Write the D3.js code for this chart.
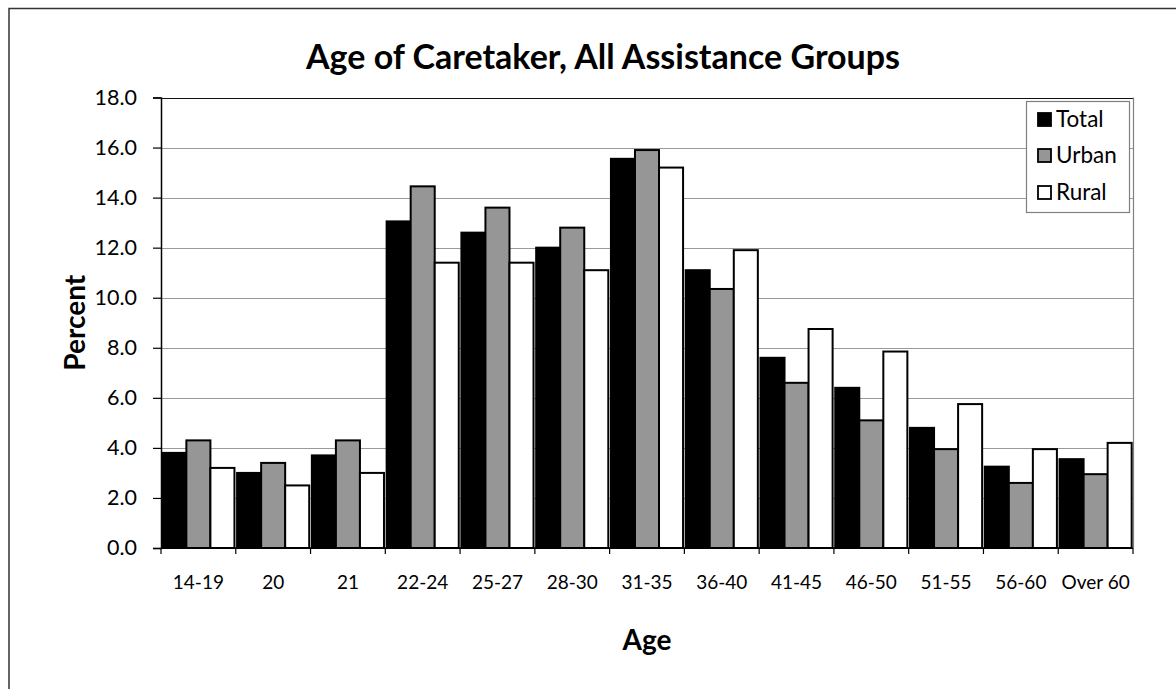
<!DOCTYPE html>
<html>
<head>
<meta charset="utf-8">
<script src="https://cdn.jsdelivr.net/npm/d3@7"></script>
<style>
  html, body { margin: 0; padding: 0; background: #fff; }
  svg { display: block; }
  text { font-family: Lato, "Open Sans", sans-serif; fill: #000; }
</style>
</head>
<body>
<svg id="chart" width="1176" height="689"></svg>
<script>
// ---- Data ----
const categories = ["14-19","20","21","22-24","25-27","28-30","31-35","36-40","41-45","46-50","51-55","56-60","Over 60"];
const seriesNames = ["Total","Urban","Rural"];
const total = [3.8, 3.0, 3.7, 13.05, 12.6, 12.0, 15.55, 11.1, 7.6, 6.4, 4.8, 3.25, 3.55];
const urban = [4.3, 3.4, 4.3, 14.45, 13.6, 12.8, 15.9, 10.35, 6.6, 5.1, 3.95, 2.6, 2.95];
const rural = [3.2, 2.5, 3.0, 11.4, 11.4, 11.1, 15.2, 11.9, 8.75, 7.85, 5.75, 3.95, 4.2];
const yTicks = [0, 2, 4, 6, 8, 10, 12, 14, 16, 18];
const titleText = "Age of Caretaker, All Assistance Groups";
const xTitle = "Age";
const yTitle = "Percent";

const seriesValues = { Total: total, Urban: urban, Rural: rural };
const colors = { Total: "#000000", Urban: "#969696", Rural: "#ffffff" };

const svg = d3.select("#chart");

// outer chart border
svg.append("rect")
  .attr("x", 9).attr("y", 8.5).attr("width", 1300).attr("height", 800)
  .attr("fill", "none").attr("stroke", "#333").attr("stroke-width", 1.5);

const plot = { left: 161, right: 1133, top: 97.5, bottom: 548 };

const x = d3.scaleBand().domain(categories).range([plot.left, plot.right]).padding(0);
const xInner = d3.scaleBand().domain(seriesNames).range([0, x.bandwidth()])
  .paddingInner(0).paddingOuter(0.055);
const y = d3.scaleLinear().domain([0, 18]).range([plot.bottom, plot.top]);

// gridlines
svg.append("g").selectAll("line").data(yTicks.filter(d => d > 0)).join("line")
  .attr("x1", plot.left).attr("x2", plot.right)
  .attr("y1", d => Math.round(y(d)) + 0.5).attr("y2", d => Math.round(y(d)) + 0.5)
  .attr("stroke", d => d === 18 ? "#111" : "#9a9a9a").attr("stroke-width", 1.2);

// right border of plot area
svg.append("line")
  .attr("x1", plot.right + 0.5).attr("x2", plot.right + 0.5)
  .attr("y1", y(18)).attr("y2", plot.bottom)
  .attr("stroke", "#808080").attr("stroke-width", 1.2);

// bars
const groups = svg.append("g").selectAll("g").data(categories).join("g")
  .attr("transform", d => `translate(${x(d)},0)`);
groups.selectAll("rect")
  .data((c, i) => seriesNames.map(s => ({ s, v: seriesValues[s][i] })))
  .join("rect")
  .attr("x", d => xInner(d.s))
  .attr("width", xInner.bandwidth())
  .attr("y", d => y(d.v))
  .attr("height", d => y(0) - y(d.v))
  .attr("fill", d => colors[d.s])
  .attr("stroke", "#000").attr("stroke-width", 2);

// y axis
const yAxis = d3.axisLeft(y).tickValues(yTicks).tickFormat(d3.format(".1f"))
  .tickSize(8).tickPadding(16);
const gy = svg.append("g").attr("transform", `translate(${plot.left},0)`).call(yAxis);
gy.select(".domain").attr("stroke", "#000").attr("stroke-width", 1.5);
gy.selectAll(".tick line").attr("stroke", "#000").attr("stroke-width", 1.2);
gy.selectAll(".tick text").style("font-size", "21.5px").style("font-family", "Lato, sans-serif").attr("fill", "#000");

// x axis
const gx = svg.append("g").attr("transform", `translate(0,${plot.bottom})`);
gx.append("line").attr("x1", plot.left).attr("x2", plot.right).attr("y1", 0).attr("y2", 0)
  .attr("stroke", "#000").attr("stroke-width", 1.5);
const boundaries = categories.map(c => x(c)).concat([x(categories[categories.length - 1]) + x.bandwidth()]);
gx.selectAll("line.tk").data(boundaries).join("line").attr("class", "tk")
  .attr("x1", d => d).attr("x2", d => d).attr("y1", 0).attr("y2", 6)
  .attr("stroke", "#000").attr("stroke-width", 1.2);
gx.selectAll("text").data(categories).join("text")
  .attr("x", d => x(d) + x.bandwidth() / 2).attr("y", 41)
  .attr("text-anchor", "middle").style("font-size", "19px").text(d => d);

// titles
svg.append("text").attr("x", 603).attr("y", 69).attr("text-anchor", "middle")
  .style("font-size", "34px").style("font-weight", "bold").text(titleText);
svg.append("text").attr("x", (plot.left + plot.right) / 2).attr("y", 650).attr("text-anchor", "middle")
  .style("font-size", "28px").style("font-weight", "bold").text(xTitle);
svg.append("text")
  .attr("transform", `translate(85,${(plot.top + plot.bottom) / 2}) rotate(-90)`)
  .attr("text-anchor", "middle")
  .style("font-size", "28px").style("font-weight", "bold").text(yTitle);

// legend
const lg = svg.append("g");
lg.append("rect").attr("x", 1026.5).attr("y", 101.5).attr("width", 103).attr("height", 111)
  .attr("fill", "#fff").attr("stroke", "#808080").attr("stroke-width", 1.2);
const rowsY = [127, 163, 200];
seriesNames.forEach((s, i) => {
  lg.append("rect").attr("x", 1038).attr("y", rowsY[i] - 14).attr("width", 13).attr("height", 13)
    .attr("fill", colors[s]).attr("stroke", "#000").attr("stroke-width", 1.8);
  lg.append("text").attr("x", 1056).attr("y", rowsY[i]).style("font-size", "22.5px").text(s);
});
</script>
</body>
</html>
